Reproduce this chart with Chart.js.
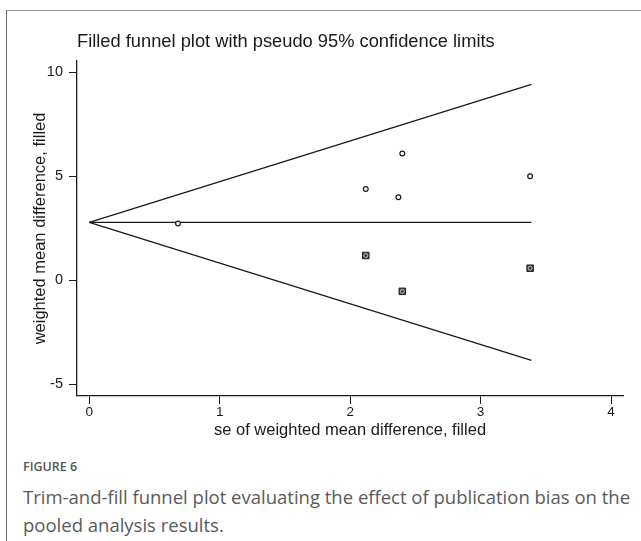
<!DOCTYPE html>
<html>
<head>
<meta charset="utf-8">
<script src="https://cdn.jsdelivr.net/npm/chart.js@4.4.1/dist/chart.umd.min.js"></script>
<style>
  html, body { margin: 0; padding: 0; background: #fff; }
  body { width: 641px; height: 541px; position: relative; overflow: hidden; }
  .frame { position: absolute; left: 6px; top: 10px; width: 700px; height: 600px;
           border-top: 1.5px solid #9a9a9a; border-left: 1.5px solid #6a6a6a; }
  .plot { position: absolute; left: 0; top: 0; width: 641px; height: 445px; }
  .caption { position: absolute; left: 23px; top: 458px; font-family: "Open Sans", sans-serif;
             color: #5a5a5a; white-space: nowrap; }
  .caption .fig { font-size: 12.5px; font-weight: 600; line-height: 18px; color: #555; }
  .caption .txt { font-size: 18.5px; line-height: 28px; margin-top: 7px; }
</style>
</head>
<body>
<div class="frame"></div>
<div class="plot"><canvas id="funnelChart"></canvas></div>
<div class="caption">
  <div class="fig">FIGURE 6</div>
  <div class="txt">Trim-and-fill funnel plot evaluating the effect of publication bias on the<br>pooled analysis results.</div>
</div>
<script>
// observed studies (hollow circles)
const observedSe = [0.68, 2.12, 2.37, 2.40, 3.38];
const observedWmd = [2.73, 4.39, 3.99, 6.09, 5.00];
// imputed studies from trim-and-fill (boxed markers)
const filledSe = [2.12, 2.40, 3.38];
const filledWmd = [1.19, -0.53, 0.58];
// pooled estimate and pseudo 95% limits, read at the two ends
const limitSe = [0, 3.39];
const pooledLine = [2.78, 2.78];
const upperLimit = [2.78, 9.41];
const lowerLimit = [2.78, -3.85];
// axes
const xTicks = [0, 1, 2, 3, 4];
const yTicks = [-5, 0, 5, 10];
const xRange = [-0.094, 4.092];
const yRange = [-5.56, 10.54];

const pts = (xs, ys) => xs.map((x, i) => ({ x: x, y: ys[i] }));
const ink = '#1a1a1a';
const font = 'Liberation Sans, Arial, Helvetica, sans-serif';

const lineSet = (ys) => ({
    data: pts(limitSe, ys),
    showLine: true,
    borderColor: ink,
    borderWidth: 1.3,
    pointRadius: 0,
    fill: false
});

const ctx = document.getElementById('funnelChart').getContext('2d');
const funnelChart = new Chart(ctx, {
    type: 'scatter',
    data: {
        datasets: [
            {
                data: pts(filledSe, filledWmd),
                pointStyle: 'circle',
                pointRadius: 2,
                pointBorderWidth: 1,
                pointBorderColor: '#c8c8c8',
                pointBackgroundColor: 'rgba(0,0,0,0)'
            },
            {
                data: pts(filledSe, filledWmd),
                pointStyle: 'rect',
                pointRadius: 4.6,
                pointBorderWidth: 1,
                pointBorderColor: '#222',
                pointBackgroundColor: '#3c3c3c'
            },
            {
                data: pts(observedSe, observedWmd),
                pointStyle: 'circle',
                pointRadius: 2.4,
                pointBorderWidth: 1.2,
                pointBorderColor: ink,
                pointBackgroundColor: '#fff'
            },
            lineSet(pooledLine),
            lineSet(upperLimit),
            lineSet(lowerLimit)
        ]
    },
    options: {
        responsive: true,
        maintainAspectRatio: false,
        animation: false,
        layout: { padding: { left: 0, right: 18, top: 0, bottom: 0 } },
        plugins: {
            legend: { display: false },
            tooltip: { enabled: false },
            title: {
                display: true,
                text: 'Filled funnel plot with pseudo 95% confidence limits',
                align: 'start',
                fullSize: false,
                color: ink,
                font: { family: font, size: 18.3, weight: 'normal' },
                padding: { top: 31, bottom: 8 }
            }
        },
        scales: {
            x: {
                type: 'linear',
                min: xRange[0],
                max: xRange[1],
                afterBuildTicks: (s) => { s.ticks = xTicks.map(v => ({ value: v })); },
                afterFit: (s) => { s.height = 49; },
                border: { display: true, color: ink, width: 1.3 },
                grid: { drawOnChartArea: false, drawTicks: true, tickLength: 8, color: ink, lineWidth: 1 },
                ticks: { color: ink, padding: 0, maxRotation: 0, minRotation: 0, font: { family: font, size: 13.5 } },
                title: {
                    display: true,
                    text: 'se of weighted mean difference, filled',
                    color: ink,
                    font: { family: font, size: 16.5 },
                    padding: { top: 0, bottom: 5 }
                }
            },
            y: {
                type: 'linear',
                min: yRange[0],
                max: yRange[1],
                afterBuildTicks: (s) => { s.ticks = yTicks.map(v => ({ value: v })); },
                afterFit: (s) => { s.width = 77; },
                border: { display: true, color: ink, width: 1.3 },
                grid: { drawOnChartArea: false, drawTicks: true, tickLength: 8, color: ink, lineWidth: 1 },
                ticks: { color: ink, padding: 6, maxRotation: 0, minRotation: 0, font: { family: font, size: 14.5 } },
                title: {
                    display: true,
                    text: 'weighted mean difference, filled',
                    color: ink,
                    font: { family: font, size: 16.5 },
                    padding: { top: 31, bottom: 0 }
                }
            }
        }
    }
});
</script>
</body>
</html>
